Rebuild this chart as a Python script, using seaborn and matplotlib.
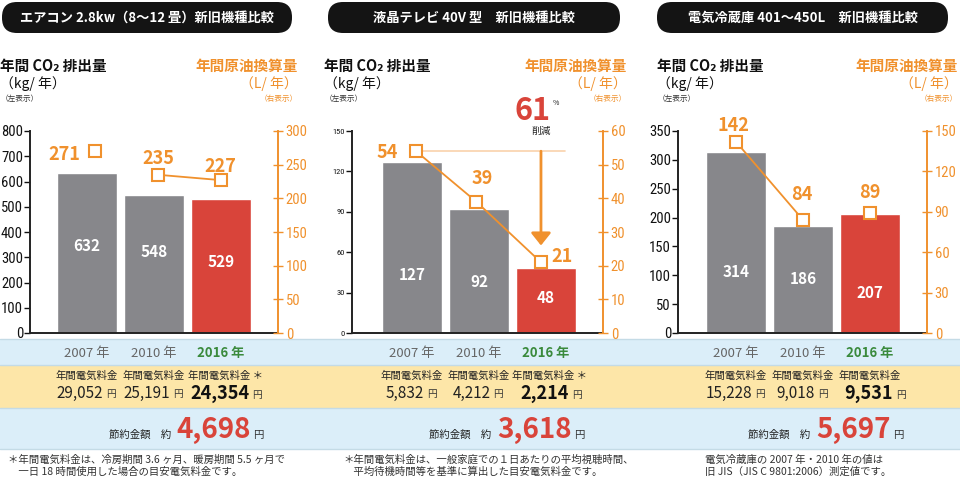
import matplotlib
matplotlib.use("Agg")
import matplotlib.pyplot as plt
import seaborn as sns
import pandas as pd
from matplotlib import font_manager
from matplotlib.patches import FancyBboxPatch, Rectangle
from matplotlib.offsetbox import TextArea, HPacker, AnnotationBbox

# ---- data ----
headers = ["エアコン 2.8kw（8〜12 畳）新旧機種比較",
           "液晶テレビ 40V 型　新旧機種比較",
           "電気冷蔵庫 401〜450L　新旧機種比較"]
years = ["2007 年", "2010 年", "2016 年"]
co2_aircon = [632, 548, 529]
co2_tv = [127, 92, 48]
co2_fridge = [314, 186, 207]
oil_aircon = [271, 235, 227]
oil_tv = [54, 39, 21]
oil_fridge = [142, 84, 89]
cost_aircon = ["29,052", "25,191", "24,354"]
cost_tv = ["5,832", "4,212", "2,214"]
cost_fridge = ["15,228", "9,018", "9,531"]
savings = ["4,698", "3,618", "5,697"]
left_max = [800, 150, 350]
left_step = [100, 30, 50]
right_max = [300, 60, 150]
right_step = [50, 10, 30]
oil_linked = [[1, 2], [0, 1, 2], [0, 1]]   # which points are joined by the line
cost_star = [True, True, False]
reduction = "61"
notes = [["＊年間電気料金は、冷房期間 3.6 ヶ月、暖房期間 5.5 ヶ月で",
          "　一日 18 時間使用した場合の目安電気料金です。"],
         ["＊年間電気料金は、一般家庭での１日あたりの平均視聴時間、",
          "　平均待機時間等を基準に算出した目安電気料金です。"],
         ["電気冷蔵庫の 2007 年・2010 年の値は",
          "旧 JIS（JIS C 9801:2006）測定値です。"]]

co2 = [co2_aircon, co2_tv, co2_fridge]
oil = [oil_aircon, oil_tv, oil_fridge]
costs = [cost_aircon, cost_tv, cost_fridge]

# ---- colours / layout (pixels) ----
GRAY = "#87878b"
RED = "#d9443a"
ORANGE = "#f0912d"
GREEN = "#3a8a3c"
BLUE_BAND = "#dbeef9"
YELLOW_BAND = "#fde6a8"

W, H = 960, 479
spine_l = [30, 352, 678]
spine_r = [278, 603, 927]
first_c = [87, 412, 736]
pitch = 67
bar_w = 60 / 67
ax_top, ax_bot = 131, 333
header_x = [(2, 292), (328, 620), (657, 948)]
title_l = [0, 324, 657]
title_r = [298, 627, 958]
bar_lab_y = [[246, 252, 262], [275, 282, 298], [272, 279, 293]]
oil_dx = [[0.12, 0.06, 0], [0.06, -0.04, -0.075], [0, 0, 0]]
oil_lab_xy = [[(64, 155), (158, 158), (220, 166)],
              [(387, 152), (482, 178), (562, 256)],
              [(733, 125), (802, 195), (870, 192)]]
save_cx = [186, 507, 826]
note_x = [8, 343, 705]

sns.set_style("white")
names = {f.name for f in font_manager.fontManager.ttflist}
NARROW = next((n for n in ["Liberation Sans Narrow", "Roboto Condensed", "Roboto"] if n in names),
              "DejaVu Sans")
plt.rcParams['font.family'] = ['Noto Sans CJK JP', 'DejaVu Sans']

fig = plt.figure(figsize=(W / 100, H / 100), dpi=100)
bg = fig.add_axes([0, 0, 1, 1], zorder=0)
fg = fig.add_axes([0, 0, 1, 1], zorder=5)
for a in (bg, fg):
    a.set_xlim(0, W)
    a.set_ylim(H, 0)
    a.axis("off")
    a.patch.set_visible(False)

# bottom bands
bg.add_patch(Rectangle((0, 339), W, 26, color=BLUE_BAND, lw=0))
bg.add_patch(Rectangle((0, 365), W, 43, color=YELLOW_BAND, lw=0))
bg.add_patch(Rectangle((0, 408), W, 41, color=BLUE_BAND, lw=0))
for yy in [339, 365, 408, 449]:
    bg.plot([0, W], [yy, yy], color="#c4dbe6", lw=1)


def packed(parts, x, y):
    kids = [TextArea(s, textprops=p) for s, p in parts]
    box = HPacker(children=kids, align="baseline", pad=0, sep=2)
    bg.add_artist(AnnotationBbox(box, (x, y), xycoords="data", frameon=False,
                                 box_alignment=(0.5, 0.5), pad=0))


for k in range(3):
    # header pill
    x0, x1 = header_x[k]
    bg.add_patch(FancyBboxPatch((x0, 2), x1 - x0, 31,
                                boxstyle="round,pad=0,rounding_size=15",
                                fc="#141414", ec="none"))
    bg.text((x0 + x1) / 2, 17.5, headers[k], color="white", fontsize=9.5,
            fontweight="bold", ha="center", va="center")

    # axis titles
    bg.text(title_l[k], 66, "年間 CO₂ 排出量", fontsize=10.5, fontweight="bold",
            ha="left", va="center", color="#111")
    bg.text(title_l[k], 84, "（kg/ 年）", fontsize=10, ha="left", va="center", color="#111")
    bg.text(title_l[k] + 1, 99, "（左表示）", fontsize=5.5, ha="left", va="center", color="#333")
    bg.text(title_r[k], 66, "年間原油換算量", fontsize=10.5, fontweight="bold",
            ha="right", va="center", color=ORANGE)
    bg.text(title_r[k], 84, "（L/ 年）", fontsize=10, ha="right", va="center", color=ORANGE)
    bg.text(title_r[k], 99, "（右表示）", fontsize=5.5, ha="right", va="center", color=ORANGE)

    # chart
    l, r = spine_l[k], spine_r[k]
    ax = fig.add_axes([l / W, (H - ax_bot) / H, (r - l) / W, (ax_bot - ax_top) / H], zorder=1)
    ax.set_facecolor("none")
    df = pd.DataFrame({"year": years, "co2": co2[k]})
    sns.barplot(data=df, x="year", y="co2", hue="year", palette=[GRAY, GRAY, RED],
                width=bar_w, saturation=1, legend=False, ax=ax)
    xl = -(first_c[k] - l) / pitch
    ax.set_xlim(xl, xl + (r - l) / pitch)
    ax.set_ylim(0, left_max[k])
    ax.set_yticks(range(0, left_max[k] + 1, left_step[k]))
    ax.set_xticks([])
    ax.set_xlabel("")
    ax.set_ylabel("")
    for s in ["top", "right"]:
        ax.spines[s].set_visible(False)
    for s in ["left", "bottom"]:
        ax.spines[s].set_color("#222")
        ax.spines[s].set_linewidth(1.4)
    ax.tick_params(axis="y", left=True, length=4, width=1, direction="out", pad=1,
                   labelsize=6 if k == 1 else 10.5, colors="#111")
    for t in ax.get_yticklabels():
        t.set_fontfamily(NARROW)

    ax2 = ax.twinx()
    ax2.set_ylim(0, right_max[k])
    ax2.set_yticks(range(0, right_max[k] + 1, right_step[k]))
    for s in ["top", "left", "bottom"]:
        ax2.spines[s].set_visible(False)
    ax2.spines["right"].set_color(ORANGE)
    ax2.spines["right"].set_linewidth(1.4)
    ax2.tick_params(axis="y", right=True, length=7, width=1, direction="inout", pad=2,
                    labelsize=10.5, colors=ORANGE)
    for t in ax2.get_yticklabels():
        t.set_fontfamily(NARROW)

    xs = [i + oil_dx[k][i] for i in range(3)]
    if k == 1:
        ax2.plot([xs[0], 2.28], [oil[k][0], oil[k][0]], color="#f9d2ab", lw=1.2, zorder=1)
        ax2.annotate("", xy=(1.925, 26), xytext=(1.925, oil[k][0]),
                     arrowprops=dict(arrowstyle="-|>,head_width=0.6,head_length=0.75",
                                     color=ORANGE, lw=2, shrinkA=0, shrinkB=0))
    link = oil_linked[k]
    sns.lineplot(x=[xs[i] for i in link], y=[oil[k][i] for i in link], color=ORANGE,
                 lw=1.3, ax=ax2, legend=False)
    ax2.plot(xs, oil[k], ls="none", marker="s", ms=8.5, mfc="white", mec=ORANGE, mew=1.5)
    ax2.set_ylabel("")

    for i in range(3):
        cx = first_c[k] + i * pitch
        fg.text(cx, bar_lab_y[k][i], str(co2[k][i]), color="white", fontsize=11,
                fontweight="bold", ha="center", va="center")
        ox, oy = oil_lab_xy[k][i]
        fg.text(ox, oy, str(oil[k][i]), color=ORANGE, fontsize=13, fontweight="bold",
                ha="center", va="center")
        # year band
        bg.text(cx, 353, years[i], fontsize=9.5, ha="center", va="center",
                color=GREEN if i == 2 else "#666",
                fontweight="bold" if i == 2 else "normal")
        # cost band
        lab = "年間電気料金" + (" ＊" if (i == 2 and cost_star[k]) else "")
        bg.text(cx + (4 if lab.endswith("＊") else 0), 376, lab, fontsize=7.5,
                ha="center", va="center", color="#222")
        if i == 2:
            packed([(costs[k][i], dict(fontsize=13, fontweight="bold", color="#111")),
                    ("円", dict(fontsize=7, color="#333"))], cx + 5, 393)
        else:
            packed([(costs[k][i], dict(fontsize=11, color="#222")),
                    ("円", dict(fontsize=7, color="#333"))], cx - 1, 393)

    packed([("節約金額　約 ", dict(fontsize=7.5, color="#222")),
            (savings[k], dict(fontsize=20, fontweight="bold", color=RED)),
            ("円", dict(fontsize=7.5, color="#333"))], save_cx[k], 430)

    for j, line in enumerate(notes[k]):
        bg.text(note_x[k], 460 + j * 11.5, line, fontsize=7.5, ha="left", va="center",
                color="#333")

# 61% reduction callout (TV panel)
fg.text(533, 111, reduction, color=RED, fontsize=22, fontweight="bold", ha="center", va="center")
fg.text(553, 103, "%", color="#222", fontsize=5, ha="left", va="center")
fg.text(541, 131, "削減", color="#222", fontsize=7, ha="center", va="center")

fig.savefig("out.png", dpi=100)
